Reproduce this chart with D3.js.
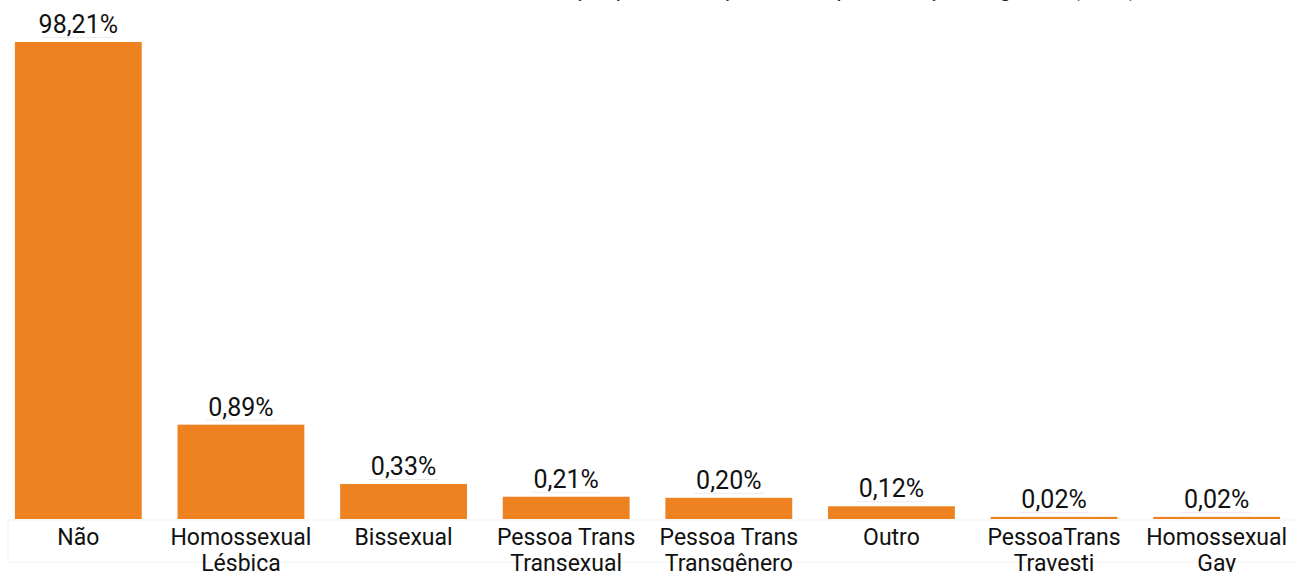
<!DOCTYPE html>
<html><head><meta charset="utf-8">
<script src="https://cdn.jsdelivr.net/npm/d3@7"></script>
<style>html,body{margin:0;padding:0;background:#fff;overflow:hidden}</style>
</head><body>
<svg id="chart" width="1296" height="572"></svg>
<script>
const titleText = "Distribuição por orientação sexual, por condição de gênero (2022)";
const categories = [
  ["Não"],
  ["Homossexual", "Lésbica"],
  ["Bissexual"],
  ["Pessoa Trans", "Transexual"],
  ["Pessoa Trans", "Transgênero"],
  ["Outro"],
  ["PessoaTrans", "Travesti"],
  ["Homossexual", "Gay"]
];
const values = [98.21, 0.89, 0.33, 0.21, 0.20, 0.12, 0.02, 0.02];
const valueLabels = ["98,21%", "0,89%", "0,33%", "0,21%", "0,20%", "0,12%", "0,02%", "0,02%"];
// visible part of the value axis (the first bar is cut at the top of the plot)
const yDomain = [0, 4.5];

const svg = d3.select("#chart");
const plotTop = 42, plotBottom = 519;
const keys = categories.map((c, i) => i);

const x = d3.scaleBand().domain(keys).range([-3, 1298]).paddingInner(0.22).paddingOuter(0.11);
const y = d3.scaleLinear().domain(yDomain).range([plotBottom, plotTop]).clamp(true);

// title (mostly cut off at the top of the picture)
svg.append("text").attr("x", 1137).attr("y", -4)
  .attr("text-anchor", "end").attr("font-family", "Roboto, sans-serif")
  .attr("font-size", 22).attr("fill", "#222").text(titleText);

// faint label frame
svg.append("rect").attr("x", 8).attr("y", 520).attr("width", 1300).attr("height", 42)
  .attr("fill", "none").attr("stroke", "#f2f2f2").attr("stroke-width", 1);

// bars
svg.append("g").selectAll("rect").data(values).join("rect")
  .attr("x", (d, i) => x(i)).attr("width", x.bandwidth())
  .attr("y", d => y(d)).attr("height", d => plotBottom - y(d))
  .attr("fill", "#EF8220");

// faint lines under value labels
svg.append("g").selectAll("line").data(values).join("line")
  .attr("x1", (d, i) => x(i) + x.bandwidth() / 2 - 35)
  .attr("x2", (d, i) => x(i) + x.bandwidth() / 2 + 35)
  .attr("y1", d => y(d) - 4.5).attr("y2", d => y(d) - 4.5)
  .attr("stroke", "#ececec").attr("stroke-width", 1);

// value labels
svg.append("g").selectAll("text").data(values).join("text")
  .attr("x", (d, i) => x(i) + x.bandwidth() / 2)
  .attr("y", d => y(d) - 9)
  .attr("text-anchor", "middle")
  .attr("font-family", "Roboto, sans-serif").attr("font-size", 25).attr("fill", "#111")
  .text((d, i) => valueLabels[i]);

// category labels
const cat = svg.append("g").selectAll("text").data(categories).join("text")
  .attr("x", (d, i) => x(i) + x.bandwidth() / 2)
  .attr("y", 545)
  .attr("text-anchor", "middle")
  .attr("font-family", "Roboto, sans-serif").attr("font-size", 23).attr("fill", "#111");
cat.selectAll("tspan").data(d => d).join("tspan")
  .attr("x", function () { return d3.select(this.parentNode).attr("x"); })
  .attr("dy", (d, j) => j === 0 ? 0 : 26)
  .text(d => d);
</script>
</body></html>
